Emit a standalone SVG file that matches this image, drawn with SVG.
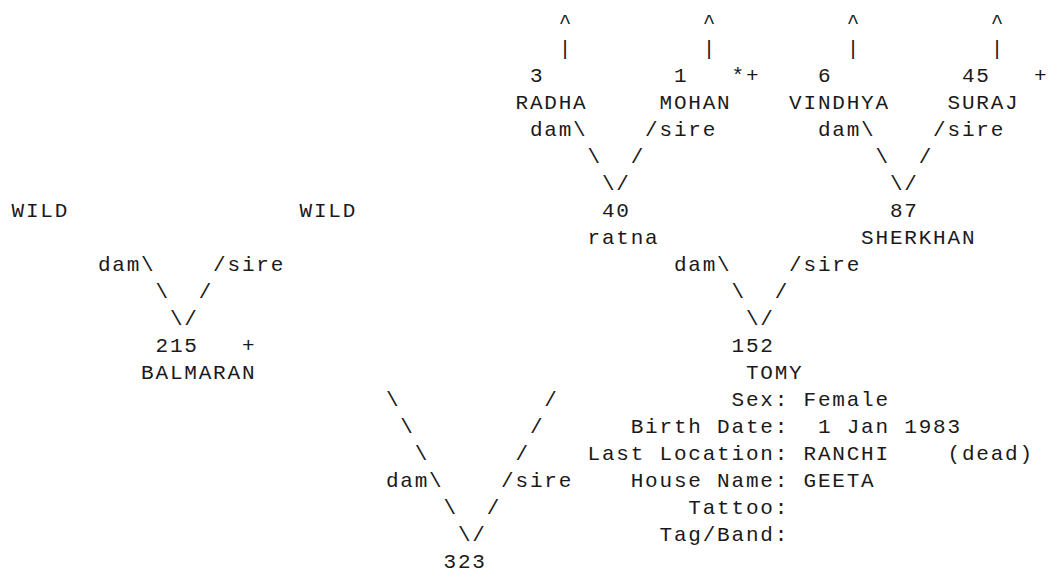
<svg xmlns="http://www.w3.org/2000/svg" width="1049" height="575" viewBox="0 0 1049 575">
<style>
text { font-family: "Liberation Mono", "Courier New", monospace; font-size: 21px; letter-spacing: 1.8px; fill: #1a1a1a; }
</style>
<rect x="0" y="0" width="1049" height="575" fill="#fff"/>
<g transform="translate(1.5,0)">
<g id="connectors">
  <text x="557.2" y="28.3">^</text><text x="701.2" y="28.3">^</text><text x="845.2" y="28.3">^</text><text x="989.2" y="28.3">^</text>
  <text x="557.2" y="55.3">|</text><text x="701.2" y="55.3">|</text><text x="845.2" y="55.3">|</text><text x="989.2" y="55.3">|</text>
  <text x="528.4" y="136.3">dam\</text><text x="643.6" y="136.3">/sire</text>
  <text x="816.4" y="136.3">dam\</text><text x="931.6" y="136.3">/sire</text>
  <text x="586" y="163.3">\</text><text x="629.2" y="163.3">/</text>
  <text x="874" y="163.3">\</text><text x="917.2" y="163.3">/</text>
  <text x="600.4" y="190.3">\/</text><text x="888.4" y="190.3">\/</text>
  <text x="96.4" y="271.3">dam\</text><text x="211.6" y="271.3">/sire</text>
  <text x="672.4" y="271.3">dam\</text><text x="787.6" y="271.3">/sire</text>
  <text x="154" y="298.3">\</text><text x="197.2" y="298.3">/</text>
  <text x="730" y="298.3">\</text><text x="773.2" y="298.3">/</text>
  <text x="168.4" y="325.3">\/</text><text x="744.4" y="325.3">\/</text>
  <text x="384.4" y="406.3">\</text><text x="542.8" y="406.3">/</text>
  <text x="398.8" y="433.3">\</text><text x="528.4" y="433.3">/</text>
  <text x="413.2" y="460.3">\</text><text x="514" y="460.3">/</text>
  <text x="384.4" y="487.3">dam\</text><text x="499.6" y="487.3">/sire</text>
  <text x="442" y="514.3">\</text><text x="485.2" y="514.3">/</text>
  <text x="456.4" y="541.3">\/</text>
</g>
<g id="node-3">
  <text x="528.4" y="82.3">3</text>
  <text x="514" y="109.3">RADHA</text>
</g>
<g id="node-1">
  <text x="672.4" y="82.3">1</text><text x="730" y="82.3">*+</text>
  <text x="658" y="109.3">MOHAN</text>
</g>
<g id="node-6">
  <text x="816.4" y="82.3">6</text>
  <text x="787.6" y="109.3">VINDHYA</text>
</g>
<g id="node-45">
  <text x="960.4" y="82.3">45</text><text x="1032.4" y="82.3">+</text>
  <text x="946" y="109.3">SURAJ</text>
</g>
<g id="node-wild-dam">
  <text x="10" y="217.3">WILD</text>
</g>
<g id="node-wild-sire">
  <text x="298" y="217.3">WILD</text>
</g>
<g id="node-40">
  <text x="600.4" y="217.3">40</text>
  <text x="586" y="244.3">ratna</text>
</g>
<g id="node-87">
  <text x="888.4" y="217.3">87</text>
  <text x="859.6" y="244.3">SHERKHAN</text>
</g>
<g id="node-215">
  <text x="154" y="352.3">215</text><text x="240.4" y="352.3">+</text>
  <text x="139.6" y="379.3">BALMARAN</text>
</g>
<g id="node-152">
  <text x="730" y="352.3">152</text>
  <text x="744.4" y="379.3">TOMY</text>
</g>
<g id="node-323">
  <text x="442" y="568.3">323</text>
  <text x="730" y="406.3">Sex:</text><text x="802" y="406.3">Female</text>
  <text x="629.2" y="433.3">Birth Date:</text><text x="816.4" y="433.3">1 Jan 1983</text>
  <text x="586" y="460.3">Last Location:</text><text x="802" y="460.3">RANCHI</text><text x="946" y="460.3">(dead)</text>
  <text x="629.2" y="487.3">House Name:</text><text x="802" y="487.3">GEETA</text>
  <text x="686.8" y="514.3">Tattoo:</text>
  <text x="658" y="541.3">Tag/Band:</text>
</g>
</g>
</svg>
